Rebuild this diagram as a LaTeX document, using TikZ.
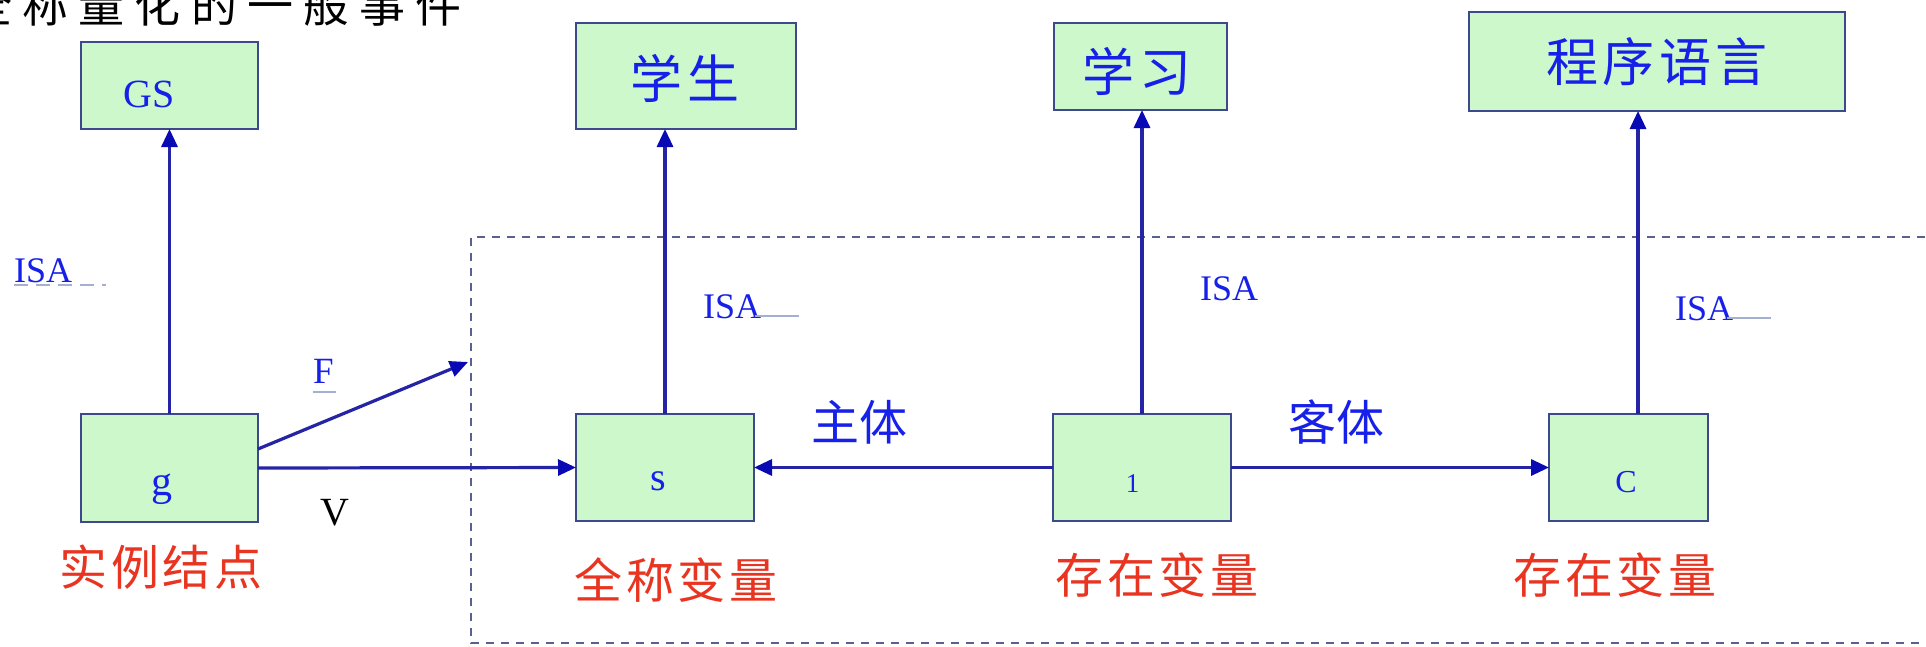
\documentclass[tikz,border=0pt]{standalone}
\usepackage{fontspec}
\setmainfont{Liberation Serif}
\newfontfamily\cjk{Noto Sans CJK SC}
\newfontfamily\cjkwide[LetterSpace=8]{Noto Sans CJK SC}
\newfontfamily\cjktitle[LetterSpace=22]{Noto Sans CJK SC}
\usetikzlibrary{arrows.meta}

\definecolor{boxfill}{RGB}{204,248,204}
\definecolor{boxline}{RGB}{62,72,140}
\definecolor{linecol}{RGB}{36,36,165}
\definecolor{tipcol}{RGB}{10,10,180}
\definecolor{txtblue}{RGB}{22,32,232}
\definecolor{txtred}{RGB}{232,52,32}
\definecolor{dashcol}{RGB}{92,96,142}
\definecolor{smudge}{RGB}{165,175,210}

\begin{document}
\begin{tikzpicture}[x=1pt,y=-1pt,
  box/.style={draw=boxline, line width=2.5pt, fill=boxfill, inner sep=0pt, outer sep=0pt},
  arr/.style={draw=linecol, line width=3.2pt,
    -{Triangle[length=18pt,width=16pt,color=tipcol]}},
  lat/.style={inner sep=0pt, text=txtblue, anchor=base, font=\fontsize{40}{44}\selectfont},
  isa/.style={inner sep=0pt, text=txtblue, anchor=base west, font=\fontsize{36}{40}\selectfont},
  rel/.style={inner sep=0pt, text=txtblue, font=\cjk\fontsize{48}{52}\selectfont},
  kind/.style={inner sep=0pt, text=txtred, font=\cjkwide\fontsize{48}{52}\selectfont},
  concept/.style={inner sep=0pt, text=txtblue, font=\cjkwide\fontsize{52}{56}\selectfont}]

\useasboundingbox (0,0) rectangle (1926,646);
\clip (0,0) rectangle (1926,646);
\fill[white] (0,0) rectangle (1926,646);

% heading
\node[inner sep=0pt, anchor=base, font=\cjktitle\fontsize{46}{50}\selectfont] (title) at (214,22) {全称量化的一般事件};

% frame around the quantified part
\coordinate (frTR) at (1940,237);
\coordinate (frTL) at (471,237);
\coordinate (frBL) at (471,643);
\coordinate (frBR) at (1940,643);
\draw[dashcol, line width=2.6pt, dash pattern=on 8pt off 7pt] (frTR) -- (frTL) -- (frBL) -- (frBR);

% concept boxes (top row)
\node[box, minimum width=177pt, minimum height=87pt] (gsbox) at (169.5,85.5) {};
\node[box, minimum width=220pt, minimum height=106pt] (stubox) at (686,76) {};
\node[box, minimum width=173pt, minimum height=87pt] (learnbox) at (1140.5,66.5) {};
\node[box, minimum width=376pt, minimum height=99pt] (plbox) at (1657,61.5) {};

% instance and variable boxes (bottom row)
\node[box, minimum width=177pt, minimum height=108pt] (gbox) at (169.5,468) {};
\node[box, minimum width=178pt, minimum height=107pt] (sbox) at (665,467.5) {};
\node[box, minimum width=178pt, minimum height=107pt] (onebox) at (1142,467.5) {};
\node[box, minimum width=159pt, minimum height=107pt] (cbox) at (1628.5,467.5) {};

% box texts
\node[lat] (gsT) at (149.5,107) {GS};
\node[concept] (stuT) at (685,78) {学生};
\node[concept] (learnT) at (1137,71) {学习};
\node[concept] (plT) at (1657,62) {程序语言};
\node[lat, font=\fontsize{42}{46}\selectfont] (gT) at (162,495) {g};
\node[lat] (sT) at (658.5,490) {s};
\node[lat, font=\fontsize{27}{30}\selectfont] (oneT) at (1132.5,492) {1};
\node[lat, font=\fontsize{32}{36}\selectfont] (cT) at (1626,492) {C};

% ISA links
\draw[arr] (gbox.north) -- (gsbox.south);
\draw[arr] (sbox.north) -- (sbox.north |- stubox.south);
\draw[arr] (onebox.north) -- (onebox.north |- learnbox.south);
\draw[arr] ([xshift=9.5pt]cbox.north) -- ([xshift=9.5pt]cbox.north |- plbox.south);

% relations between the bottom boxes
\coordinate (fend) at (468,362);
\draw[arr] ([yshift=19pt]gbox.east) -- (fend);
\draw[arr] (gbox.east) -- (sbox.west);
\draw[arr] (onebox.west) -- (sbox.east);
\draw[arr] (onebox.east) -- (cbox.west);

% link labels
\node[isa] (isa1) at (14,282) {ISA};
\node[isa] (isa2) at (703,318) {ISA};
\node[isa] (isa3) at (1200,300) {ISA};
\node[isa] (isa4) at (1675,320) {ISA};
\draw[smudge, line width=1.2pt, dash pattern=on 14pt off 8pt] (isa1.base west) ++(0,3) -- ++(92,0);
\draw[smudge, line width=2pt] (isa2.base east) ++(-6,-2) -- ++(44,0);
\draw[smudge, line width=2pt] (isa4.base east) ++(-6,-2) -- ++(44,0);
\node[isa, font=\fontsize{37}{40}\selectfont] (fT) at (313,383) {F};
\draw[smudge, line width=1.2pt] (fT.base west) ++(0,9) -- ++(23,0);
\node[isa, text=black, font=\fontsize{40}{44}\selectfont] (vT) at (320,525) {V};
\node[rel] (subjT) at (859,422) {主体};
\node[rel] (objT) at (1336,422) {客体};

% node kinds
\node[kind] (kind1) at (161,567) {实例结点};
\node[kind] (kind2) at (676,580) {全称变量};
\node[kind] (kind3) at (1157,575) {存在变量};
\node[kind] (kind4) at (1615,575) {存在变量};

\end{tikzpicture}
\end{document}
